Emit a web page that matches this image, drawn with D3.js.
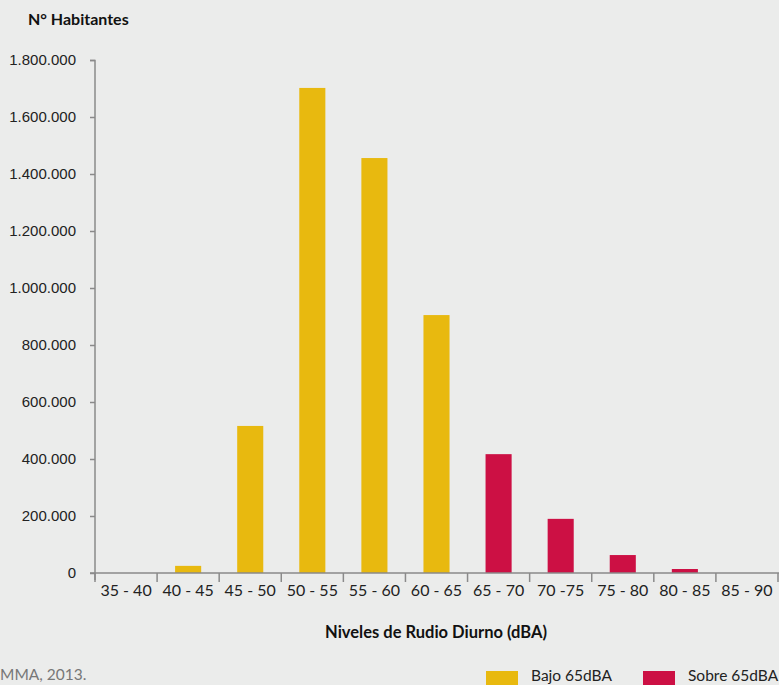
<!DOCTYPE html>
<html><head><meta charset="utf-8">
<script src="https://cdn.jsdelivr.net/npm/d3@7"></script>
<style>
html,body{margin:0;padding:0;background:#ebeceb;}
svg{display:block;font-family:"Lato","Open Sans",sans-serif;}
</style></head>
<body>
<svg id="c" width="779" height="685"></svg>
<script>
const categories = ["35 - 40","40 - 45","45 - 50","50 - 55","55 - 60","60 - 65","65 - 70","70 -75","75 - 80","80 - 85","85 - 90"];
const values = [0, 25000, 516000, 1702000, 1456000, 905000, 417000, 190000, 63000, 14000, 0];
const groups = ["Bajo","Bajo","Bajo","Bajo","Bajo","Bajo","Sobre","Sobre","Sobre","Sobre","Sobre"];
const yTicks = [0, 200000, 400000, 600000, 800000, 1000000, 1200000, 1400000, 1600000, 1800000];
const legendLabels = ["Bajo 65dBA", "Sobre 65dBA"];
const colors = {Bajo: "#e8b90f", Sobre: "#cc1044"};

const svg = d3.select("#c");
const x = d3.scaleBand().domain(categories).range([95, 778]).paddingInner(0.58).paddingOuter(0.29);
const y = d3.scaleLinear().domain([0, 1800000]).range([573, 60]);
const fmt = v => v === 0 ? "0" : d3.format(",")(v).replace(/,/g, ".");

// bars
svg.append("g").selectAll("rect").data(categories).join("rect")
  .attr("x", d => x(d)).attr("width", x.bandwidth())
  .attr("y", (d,i) => y(values[i])).attr("height", (d,i) => y(0) - y(values[i]))
  .attr("fill", (d,i) => colors[groups[i]]);

// y axis
const ya = svg.append("g").attr("transform", "translate(95,0)")
  .call(d3.axisLeft(y).tickValues(yTicks).tickFormat(fmt).tickSize(5).tickPadding(14));
ya.select(".domain").attr("stroke", "#8a8a8a").attr("stroke-width", 1.5).attr("d", "M-5,60.5H0V580");
ya.selectAll(".tick line").attr("stroke", "#8a8a8a").attr("stroke-width", 1.5);
ya.selectAll(".tick text").attr("fill", "#222").attr("font-size", 15);

// x axis
const xBoundaries = d3.range(categories.length + 1).map(i => 95 + i * x.step());
svg.append("line").attr("x1", 90).attr("x2", 779).attr("y1", 573).attr("y2", 573)
  .attr("stroke", "#8a8a8a").attr("stroke-width", 1.5);
svg.append("g").selectAll("line").data(xBoundaries).join("line")
  .attr("x1", d => d).attr("x2", d => d).attr("y1", 573).attr("y2", 582)
  .attr("stroke", "#8a8a8a").attr("stroke-width", 1.5);
svg.append("g").selectAll("text").data(categories).join("text")
  .attr("x", d => x(d) + x.bandwidth() / 2).attr("y", 596)
  .attr("text-anchor", "middle").attr("font-size", 16).attr("fill", "#222")
  .text(d => d);

// titles
svg.append("text").attr("x", 28).attr("y", 25).attr("font-size", 16).attr("font-weight", "bold")
  .attr("fill", "#111").text("N° Habitantes");
svg.append("text").attr("x", 436).attr("y", 638).attr("text-anchor", "middle")
  .attr("font-size", 16.5).attr("font-weight", "bold").attr("fill", "#111")
  .text("Niveles de Rudio Diurno (dBA)");
svg.append("text").attr("x", 0).attr("y", 680).attr("font-size", 15.5).attr("fill", "#777")
  .text("MMA, 2013.");

// legend
const legX = [486, 643];
const lg = svg.append("g").selectAll("g").data(legendLabels).join("g")
  .attr("transform", (d,i) => `translate(${legX[i]},671)`);
lg.append("rect").attr("width", 32).attr("height", 14).attr("fill", (d,i) => colors[i === 0 ? "Bajo" : "Sobre"]);
lg.append("text").attr("x", 45).attr("y", 10).attr("font-size", 15.5).attr("fill", "#222").text(d => d);
</script>
</body></html>
